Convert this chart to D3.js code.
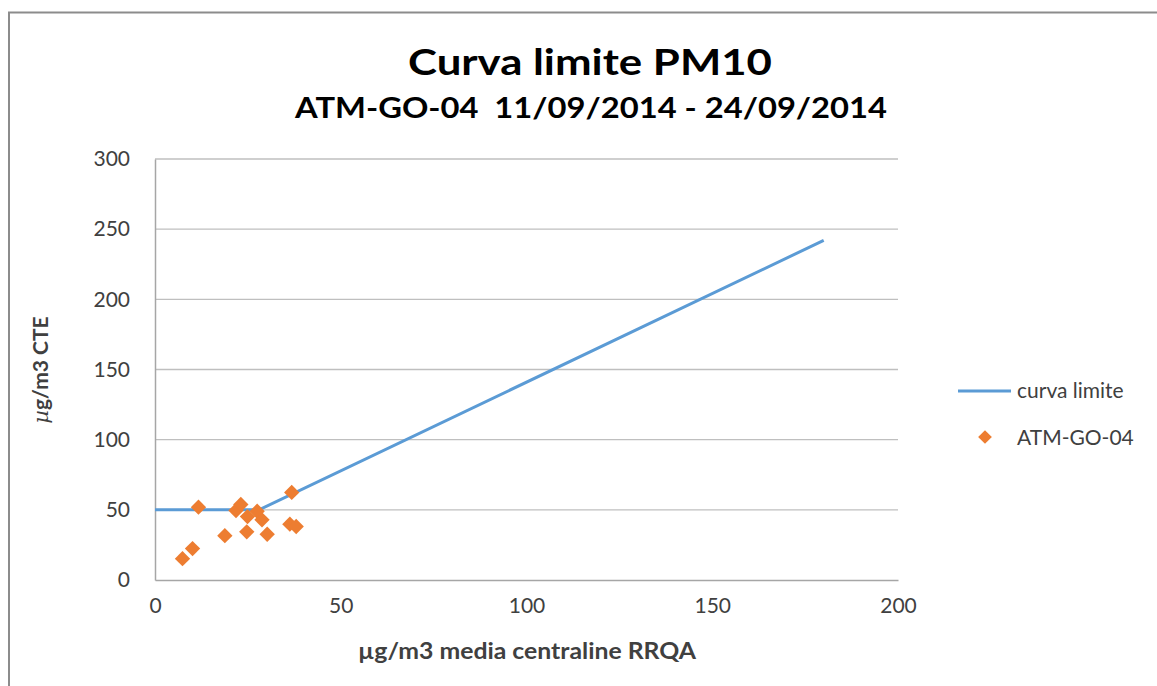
<!DOCTYPE html>
<html><head><meta charset="utf-8">
<script src="https://cdn.jsdelivr.net/npm/d3@7"></script>
<style>body{margin:0;background:#fff;} svg{display:block;font-family:Lato,"Open Sans",sans-serif;}</style>
</head><body>
<svg id="c" width="1157" height="686"></svg>
<script>
// ---- data ----
const limitX = [0, 28, 180];
const limitY = [50, 50, 242];
const obsX = [11.7, 7.4, 10.1, 18.8, 21.8, 23.1, 24.9, 24.7, 27.5, 28.8, 30.2, 36.8, 36.3, 38.0];
const obsY = [51.9, 15.2, 22.4, 31.6, 49.5, 53.8, 45.2, 34.3, 49.0, 42.9, 32.6, 62.4, 39.8, 38.1];
const xTicks = [0, 50, 100, 150, 200];
const yTicks = [0, 50, 100, 150, 200, 250, 300];
const seriesNames = ["curva limite", "ATM-GO-04"];
const titleText = "Curva limite PM10";
const subtitleText = "ATM-GO-04  11/09/2014 - 24/09/2014";
const xTitle = "µg/m3 media centraline RRQA";

const svg = d3.select("#c");
const x = d3.scaleLinear().domain([0, 200]).range([155, 898]);
const y = d3.scaleLinear().domain([0, 300]).range([580, 159]);

// outer frame
svg.append("path").attr("d","M9,686 V12.5 H1157").attr("fill","none").attr("stroke","#8c8c8c").attr("stroke-width",2);

// titles
svg.append("text").attr("x",590).attr("y",75).attr("text-anchor","middle")
  .attr("font-size",36).attr("font-weight","bold").attr("textLength",364).attr("lengthAdjust","spacingAndGlyphs").text(titleText);
svg.append("text").attr("x",591).attr("y",118).attr("text-anchor","middle")
  .attr("font-size",28).attr("font-weight","bold").attr("textLength",592).attr("lengthAdjust","spacingAndGlyphs")
  .style("white-space","pre").text(subtitleText);

// gridlines
svg.append("g").selectAll("line").data(yTicks.filter(d=>d>0)).join("line")
  .attr("x1",x(0)).attr("x2",x(200)).attr("y1",d=>y(d)).attr("y2",d=>y(d))
  .attr("stroke","#bfbfbf").attr("stroke-width",1.3);

// axes
const xAxis = svg.append("g").attr("transform",`translate(0,${y(0)})`)
  .call(d3.axisBottom(x).tickValues(xTicks).tickSize(0).tickPadding(18));
const yAxis = svg.append("g").attr("transform",`translate(${x(0)},0)`)
  .call(d3.axisLeft(y).tickValues(yTicks).tickSize(0).tickPadding(25));
[xAxis,yAxis].forEach(a=>{
  a.select(".domain").attr("stroke","#a6a6a6").attr("stroke-width",1.5);
  a.selectAll("text").attr("font-size",21).attr("fill","#404040").attr("font-family","Lato,sans-serif");
});
xAxis.selectAll("text").attr("dy","0.71em");

// axis titles
svg.append("text").attr("x",527).attr("y",659).attr("text-anchor","middle")
  .attr("font-size",22).attr("font-weight","bold").attr("fill","#404040")
  .attr("textLength",338).attr("lengthAdjust","spacingAndGlyphs").text(xTitle);
const yt = svg.append("text").attr("transform","translate(48,370) rotate(-90)").attr("text-anchor","middle")
  .attr("font-size",21).attr("font-weight","bold").attr("fill","#404040");
yt.append("tspan").attr("font-style","italic").attr("font-weight","normal").attr("font-family","DejaVu Serif,serif").text("µ");
yt.append("tspan").text("g/m3 CTE");

// limit line
const lineData = limitX.map((v,i)=>[v, limitY[i]]);
svg.append("path").datum(lineData)
  .attr("d", d3.line().x(d=>x(d[0])).y(d=>y(d[1])))
  .attr("fill","none").attr("stroke","#5b9bd5").attr("stroke-width",3);

// points
const diamond = d3.symbol().type(d3.symbolDiamond2).size(150);
svg.append("g").selectAll("path").data(obsX.map((v,i)=>[v, obsY[i]])).join("path")
  .attr("d", diamond).attr("transform", d=>`translate(${x(d[0])},${y(d[1])})`)
  .attr("fill","#ed7d31");

// legend
svg.append("line").attr("x1",958).attr("x2",1011).attr("y1",391).attr("y2",391)
  .attr("stroke","#5b9bd5").attr("stroke-width",3);
svg.append("text").attr("x",1017).attr("y",398).attr("font-size",21).attr("fill","#404040").text(seriesNames[0]);
svg.append("path").attr("d",d3.symbol().type(d3.symbolDiamond2).size(120)).attr("transform","translate(985,437)").attr("fill","#ed7d31");
svg.append("text").attr("x",1017).attr("y",445).attr("font-size",21).attr("fill","#404040").text(seriesNames[1]);
</script>
</body></html>
